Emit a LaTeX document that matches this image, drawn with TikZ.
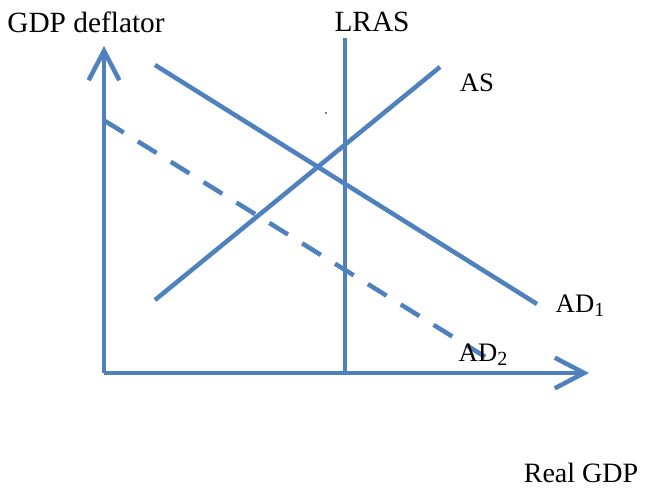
\documentclass[tikz,border=0pt]{standalone}
\usepackage{fontspec}
\setmainfont{Liberation Serif}
\usetikzlibrary{arrows.meta}
\newcommand{\lowsub}[1]{\raisebox{-0.3ex}{\fontsize{15}{15}\selectfont #1}}
\begin{document}
\begin{tikzpicture}[x=0.75pt,y=-0.75pt,
  curve/.style={curveBlue,line width=3.4pt},
  axis/.style={curve,-{Straight Barb[length=22pt,width=23pt]}},
  lab/.style={font=\fontsize{20}{24}\selectfont},
  biglab/.style={font=\fontsize{22}{26}\selectfont}]
\definecolor{curveBlue}{HTML}{4F81BD}
\useasboundingbox (0,0) rectangle (646,488);
% axes
\coordinate (origin) at (104,373);
\coordinate (yTop) at (104,46);
\coordinate (xEnd) at (589,373);
\draw[axis] (origin) -- (yTop);
\draw[axis] (origin) -- (xEnd);
% curves
\coordinate (lrasTop) at (345,38);
\coordinate (lrasBot) at (345,373);
\coordinate (asLow) at (155,300);
\coordinate (asHigh) at (440,67);
\coordinate (adOneStart) at (155,65);
\coordinate (adOneEnd) at (537,304);
\coordinate (adTwoStart) at (105,121);
\coordinate (adTwoEnd) at (487,358);
\draw[curve] (lrasTop) -- (lrasBot);
\draw[curve] (asLow) -- (asHigh);
\draw[curve] (adOneStart) -- (adOneEnd);
\draw[curve,dash pattern=on 16.5pt off 12.5pt] (adTwoStart) -- (adTwoEnd);
\fill (326,113) circle (0.7pt);
% labels
\node[biglab] (yLabel) at (86,22) {GDP deflator};
\node[biglab] (lrasLabel) at (372,22) {LRAS};
\node[lab] (asLabel) at (477,83) {AS};
\node[lab] (adOneLabel) at (580,306) {AD\lowsub{1}};
\node[lab] (adTwoLabel) at (483,355) {AD\lowsub{2}};
\node[font=\fontsize{21}{25}\selectfont] (xLabel) at (581,473) {Real GDP};
\end{tikzpicture}
\end{document}
